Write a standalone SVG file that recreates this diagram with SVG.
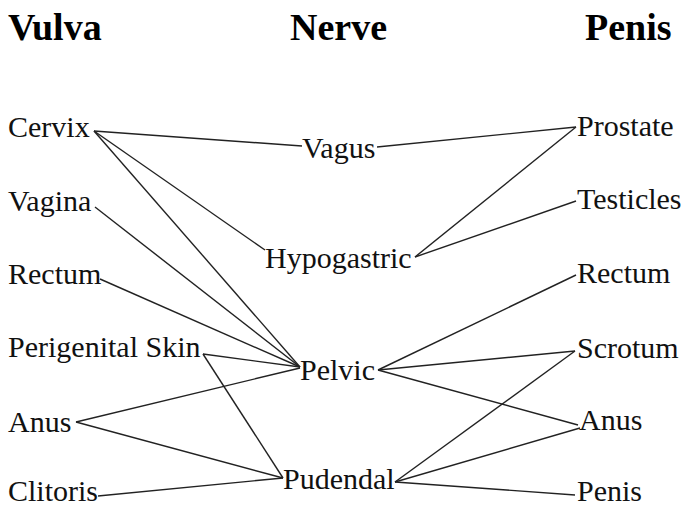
<svg xmlns="http://www.w3.org/2000/svg" width="684" height="508" viewBox="0 0 684 508">
<style>
.t{font-family:"Liberation Serif","Times New Roman",serif;font-size:30px;fill:#111}
.h{font-family:"Liberation Serif","Times New Roman",serif;font-size:38px;font-weight:bold;fill:#000}
.e line{stroke:#222;stroke-width:1.4}
</style>
<rect width="684" height="508" fill="#fff"/>
<g id="headers">
<text class="h" x="8" y="40">Vulva</text>
<text class="h" x="290" y="40">Nerve</text>
<text class="h" x="585" y="40">Penis</text>
</g>
<g id="connectors" class="e">
<line x1="94" y1="131" x2="302" y2="146"/>
<line x1="94" y1="131" x2="265" y2="250"/>
<line x1="94" y1="131" x2="300" y2="367"/>
<line x1="95" y1="207" x2="300" y2="367"/>
<line x1="100" y1="279" x2="300" y2="367"/>
<line x1="203" y1="354" x2="300" y2="367"/>
<line x1="203" y1="354" x2="283" y2="478"/>
<line x1="76" y1="422" x2="300" y2="368"/>
<line x1="76" y1="422" x2="283" y2="478"/>
<line x1="98" y1="496" x2="283" y2="478"/>
<line x1="377" y1="147" x2="576" y2="127"/>
<line x1="415" y1="257" x2="576" y2="127"/>
<line x1="415" y1="257" x2="576" y2="201"/>
<line x1="378" y1="370" x2="576" y2="275"/>
<line x1="378" y1="370" x2="575" y2="351"/>
<line x1="378" y1="370" x2="578" y2="425"/>
<line x1="395" y1="482" x2="575" y2="351"/>
<line x1="395" y1="482" x2="580" y2="428"/>
<line x1="395" y1="482" x2="575" y2="495"/>
</g>
<g id="n-cervix"><text class="t" x="8" y="137">Cervix</text></g>
<g id="n-vagina"><text class="t" x="8" y="211">Vagina</text></g>
<g id="n-rectum-v"><text class="t" x="8" y="284">Rectum</text></g>
<g id="n-perigenital"><text class="t" x="8" y="357">Perigenital Skin</text></g>
<g id="n-anus-v"><text class="t" x="8" y="432">Anus</text></g>
<g id="n-clitoris"><text class="t" x="8" y="501">Clitoris</text></g>
<g id="n-vagus"><text class="t" x="302" y="158">Vagus</text></g>
<g id="n-hypogastric"><text class="t" x="265" y="268">Hypogastric</text></g>
<g id="n-pelvic"><text class="t" x="300" y="380">Pelvic</text></g>
<g id="n-pudendal"><text class="t" x="283" y="489">Pudendal</text></g>
<g id="n-prostate"><text class="t" x="577" y="136">Prostate</text></g>
<g id="n-testicles"><text class="t" x="577" y="209">Testicles</text></g>
<g id="n-rectum-p"><text class="t" x="577" y="283">Rectum</text></g>
<g id="n-scrotum"><text class="t" x="577" y="358">Scrotum</text></g>
<g id="n-anus-p"><text class="t" x="579" y="430">Anus</text></g>
<g id="n-penis"><text class="t" x="577" y="501">Penis</text></g>
</svg>
